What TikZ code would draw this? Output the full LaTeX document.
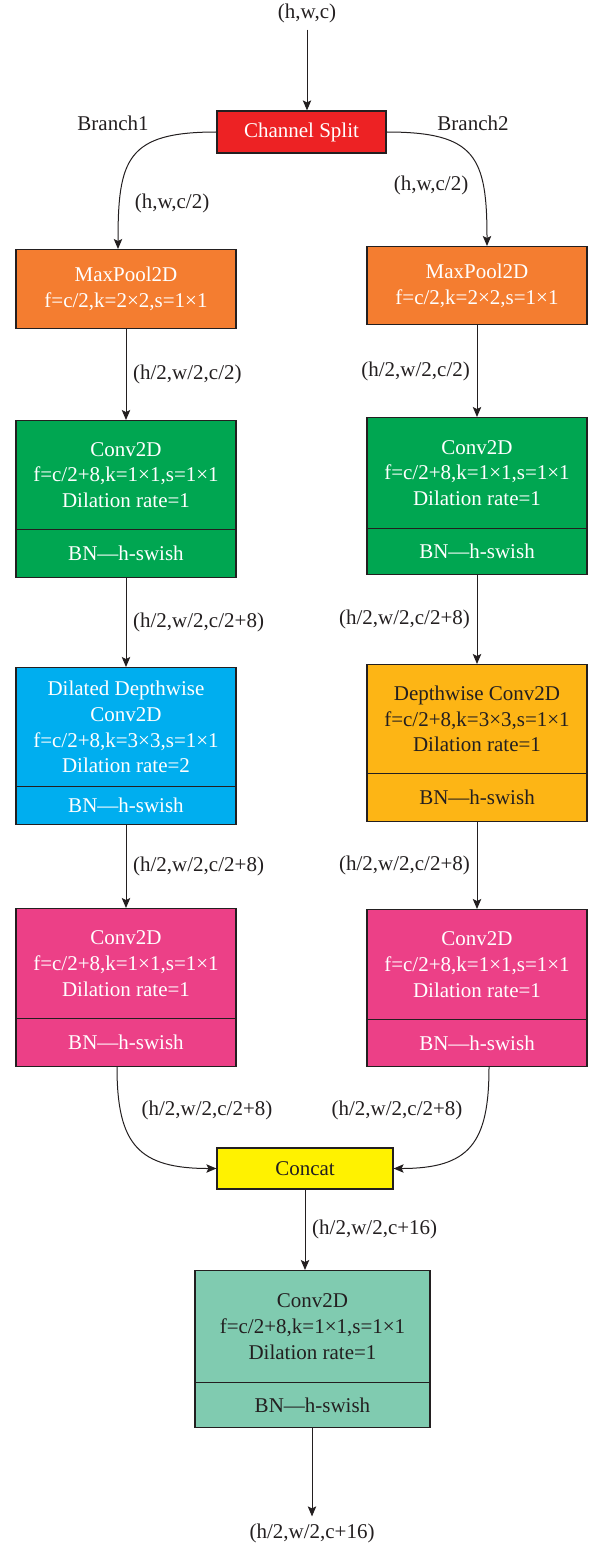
\documentclass[tikz,border=0pt]{standalone}
\usepackage{fontspec}
\setmainfont{Liberation Serif}
\usetikzlibrary{arrows.meta}

\definecolor{ink}{HTML}{231F20}
\definecolor{splitred}{HTML}{ED2224}
\definecolor{poolorange}{HTML}{F47D30}
\definecolor{convgreen}{HTML}{00A651}
\definecolor{dilblue}{HTML}{00AEEF}
\definecolor{dwamber}{HTML}{FDB515}
\definecolor{convpink}{HTML}{EC4087}
\definecolor{catyellow}{HTML}{FFF200}
\definecolor{outteal}{HTML}{80CBB0}

\begin{document}
\begin{tikzpicture}[
    x=0.5pt, y=0.5pt,
    every node/.style={font=\fontsize{10.5}{12.8}\selectfont, text=ink},
    blk/.style={draw=ink, line width=0.6pt, align=center, inner sep=0pt, minimum width=110pt, text=white},
    lbl/.style={fill=none, draw=none, text=ink},
    >={Stealth[length=5pt, width=4.2pt, inset=1pt]},
    every edge/.style={draw=ink, line width=0.5pt},
    con/.style={draw=ink, line width=0.5pt, ->},
]
  \useasboundingbox (0,0) rectangle (589,-1546);

  % input and split
  \node [lbl]                                                      (in)    at (307,-13)     {(h,w,c)};
  \node [blk, fill=splitred, minimum width=84.5pt, minimum height=21pt] (split) at (301.5,-132) {Channel Split};
  \draw [con] (in) -- (in |- split.north);
  \node [lbl]                                                      (br1)   at (113,-123)    {Branch1};
  \node [lbl]                                                      (br2)   at (473,-123)    {Branch2};

  % branch 1
  \node [blk, fill=poolorange, anchor=north, minimum height=39.5pt] (mpL)   at (126,-249)  {MaxPool2D\\f=c/2,k=2×2,s=1×1};
  \node [blk, fill=convgreen,  anchor=north, minimum height=54.5pt] (cvL)   at (126,-420)  {Conv2D\\f=c/2+8,k=1×1,s=1×1\\Dilation rate=1}
                                          edge    [<-]        node [lbl, right] (sL1) {(h/2,w/2,c/2)} (mpL);
  \node [blk, fill=convgreen,  anchor=north, minimum height=24pt]   (cvLbn) at (126,-529)  {BN—h-swish};
  \node [blk, fill=dilblue,    anchor=north, minimum height=59.5pt] (dwL)   at (126,-667)  {Dilated Depthwise\\Conv2D\\f=c/2+8,k=3×3,s=1×1\\Dilation rate=2}
                                          edge    [<-]        node [lbl, right] (sL2) {(h/2,w/2,c/2+8)} (cvLbn);
  \node [blk, fill=dilblue,    anchor=north, minimum height=19pt]   (dwLbn) at (126,-786)  {BN—h-swish};
  \node [blk, fill=convpink,   anchor=north, minimum height=55pt]   (pkL)   at (126,-908)  {Conv2D\\f=c/2+8,k=1×1,s=1×1\\Dilation rate=1}
                                          edge    [<-]        node [lbl, right] (sL3) {(h/2,w/2,c/2+8)} (dwLbn);
  \node [blk, fill=convpink,   anchor=north, minimum height=24pt]   (pkLbn) at (126,-1018) {BN—h-swish};

  % branch 2
  \node [blk, fill=poolorange, anchor=north, minimum height=39pt]   (mpR)   at (477,-246)  {MaxPool2D\\f=c/2,k=2×2,s=1×1};
  \node [blk, fill=convgreen,  anchor=north, minimum height=55.5pt] (cvR)   at (477,-417)  {Conv2D\\f=c/2+8,k=1×1,s=1×1\\Dilation rate=1}
                                          edge    [<-]        node [lbl, left] (sR1) {(h/2,w/2,c/2)} (mpR);
  \node [blk, fill=convgreen,  anchor=north, minimum height=23pt]   (cvRbn) at (477,-528)  {BN—h-swish};
  \node [blk, fill=dwamber,    anchor=north, minimum height=54.5pt, text=ink] (dwR) at (477,-664) {Depthwise Conv2D\\f=c/2+8,k=3×3,s=1×1\\Dilation rate=1}
                                          edge    [<-]        node [lbl, left] (sR2) {(h/2,w/2,c/2+8)} (cvRbn);
  \node [blk, fill=dwamber,    anchor=north, minimum height=24pt, text=ink]   (dwRbn) at (477,-773) {BN—h-swish};
  \node [blk, fill=convpink,   anchor=north, minimum height=55pt]   (pkR)   at (477,-909)  {Conv2D\\f=c/2+8,k=1×1,s=1×1\\Dilation rate=1}
                                          edge    [<-]        node [lbl, left] (sR3) {(h/2,w/2,c/2+8)} (dwRbn);
  \node [blk, fill=convpink,   anchor=north, minimum height=23.5pt] (pkRbn) at (477,-1019) {BN—h-swish};

  % split to the branches
  \draw [con] (split.west) to [out=180, in=90, looseness=1.5] ([xshift=-4pt]mpL.north);
  \draw [con] (split.east) to [out=0,   in=90, looseness=1.5] ([xshift=5pt]mpR.north);
  \node [lbl] (hwL) at (172,-203) {(h,w,c/2)};
  \node [lbl] (hwR) at (431,-185) {(h,w,c/2)};

  % concat and output
  \node [blk, fill=catyellow, minimum width=88pt, minimum height=20.5pt, text=ink] (cat) at (305,-1168.5) {Concat};
  \draw [con] ([xshift=-4.5pt]pkLbn.south) to [out=270, in=180, looseness=1.4] (cat.west);
  \draw [con] ([xshift=6pt]pkRbn.south)    to [out=270, in=0,   looseness=1.4] (cat.east);
  \node [lbl] (jL) at (207,-1110) {(h/2,w/2,c/2+8)};
  \node [lbl] (jR) at (397,-1110) {(h/2,w/2,c/2+8)};

  \node [blk, fill=outteal, anchor=north, minimum width=117.5pt, minimum height=56pt, text=ink]   (fin)   at (312.5,-1270) {Conv2D\\f=c/2+8,k=1×1,s=1×1\\Dilation rate=1};
  \node [blk, fill=outteal, anchor=north, minimum width=117.5pt, minimum height=22.5pt, text=ink] (finbn) at (312.5,-1382) {BN—h-swish};
  \draw [con] (cat) -- node [lbl, right] (sC) {(h/2,w/2,c+16)} (cat |- fin.north);
  \node [lbl] (out) at (312,-1533) {(h/2,w/2,c+16)};
  \draw [con] (finbn.south -| out) -- (out);
\end{tikzpicture}
\end{document}
